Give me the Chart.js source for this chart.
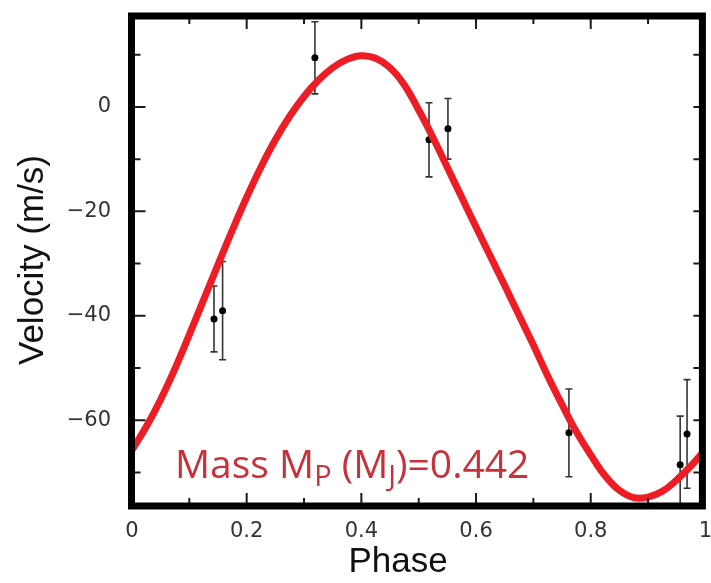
<!DOCTYPE html>
<html>
<head>
<meta charset="utf-8">
<script src="https://cdn.jsdelivr.net/npm/chart.js@4.4.1/dist/chart.umd.min.js"></script>
<style>
  html, body { margin: 0; padding: 0; background: #fff; }
</style>
</head>
<body>
<canvas id="rvChart" width="711" height="583"></canvas>
<script>
// Observed radial velocities (phase folded), with 1-sigma errors
const obsPhase = [0.143, 0.158, 0.319, 0.518, 0.551, 0.762, 0.956, 0.968];
const obsVel   = [-40.6, -39.0, 9.4, -6.3, -4.2, -62.4, -68.5, -62.6];
const obsErr   = [6.3, 9.4, 6.9, 7.1, 5.8, 8.4, 9.3, 10.4];

// Orbit fit (red curve), every 0.025 in phase
const fitPhase = [0, 0.025, 0.05, 0.075, 0.1, 0.125, 0.15, 0.175, 0.2, 0.225,
                  0.25, 0.275, 0.3, 0.325, 0.35, 0.375, 0.4, 0.425, 0.45, 0.475,
                  0.5, 0.525, 0.55, 0.575, 0.6, 0.625, 0.65, 0.675, 0.7, 0.725,
                  0.75, 0.775, 0.8, 0.825, 0.85, 0.875, 0.9, 0.925, 0.95, 0.975, 1.0];
const fitVel   = [-65.7, -61.2, -56.0, -50.1, -43.6, -36.9, -30.2, -23.6, -17.3, -11.5,
                  -6.3, -1.8, 2.0, 5.1, 7.5, 9.1, 9.8, 9.3, 7.5, 4.2,
                  -0.6, -5.9, -11.6, -17.3, -23.0, -28.6, -34.2, -39.9, -45.6, -51.5,
                  -57.0, -62.2, -66.6, -70.6, -73.4, -74.8, -74.7, -73.6, -71.4, -68.7, -65.6];

// Labelled ticks
const xMajor = [0, 0.2, 0.4, 0.6, 0.8, 1];
const yMajor = [-60, -40, -20, 0];

const massLabel = [['Mass M', 0], ['P', 1], [' (M', 0], ['J', 1], [')=0.442', 0]];

const isMajor = (list, v) => list.some(m => Math.abs(m - v) < 1e-6);

// thick black box with inward ticks on all four sides, plus titles and label
const framePlugin = {
  id: 'frame',
  afterDraw(chart) {
    const { ctx, chartArea: a, scales: { x, y } } = chart;
    const L = a.left - 0.5, R = a.right - 3, T = a.top, B = a.bottom;
    ctx.save();
    ctx.strokeStyle = '#1a1a1a';
    ctx.lineWidth = 2;
    ctx.beginPath();
    x.ticks.forEach(t => {
      if (t.value <= 0 || t.value >= 1) return;
      const px = x.getPixelForValue(t.value);
      const len = isMajor(xMajor, t.value) ? 10 : 5;
      ctx.moveTo(px, B - 3); ctx.lineTo(px, B - 3 - len);
      ctx.moveTo(px, T + 3); ctx.lineTo(px, T + 3 + len);
    });
    y.ticks.forEach(t => {
      const py = y.getPixelForValue(t.value);
      const len = isMajor(yMajor, t.value) ? 11 : 6;
      ctx.moveTo(L + 3, py); ctx.lineTo(L + 3 + len, py);
      ctx.moveTo(R - 3, py); ctx.lineTo(R - 9, py);
    });
    ctx.stroke();

    ctx.lineWidth = 7;
    ctx.strokeStyle = '#000';
    ctx.strokeRect(L, T, R - L, B - T);

    // axis titles
    ctx.fillStyle = '#111';
    ctx.font = '35px "Liberation Sans", Arial, sans-serif';
    ctx.textAlign = 'center';
    ctx.textBaseline = 'alphabetic';
    ctx.fillText('Phase', 398, 572);
    ctx.save();
    ctx.translate(43, 260);
    ctx.rotate(-Math.PI / 2);
    ctx.fillText('Velocity (m/s)', 0, 0);
    ctx.restore();

    // planet mass note
    ctx.textAlign = 'left';
    ctx.fillStyle = '#c8303a';
    let tx = 175;
    massLabel.forEach(([txt, sub]) => {
      ctx.font = (sub ? '29px' : '39px') + ' "Open Sans", sans-serif';
      ctx.fillText(txt, tx, 478 + (sub ? 8 : 0));
      tx += ctx.measureText(txt).width;
    });
    ctx.restore();
  }
};

const tickFont = { family: '"DejaVu Sans", sans-serif', size: 21 };

const errorBars = obsPhase.map((p, i) => ({
  type: 'line',
  data: [{ x: p, y: obsVel[i] - obsErr[i] }, { x: p, y: obsVel[i] + obsErr[i] }],
  borderColor: '#333',
  borderWidth: 1.6,
  pointStyle: 'line',
  pointRadius: 3.5,
  pointBorderColor: '#333',
  pointBorderWidth: 1.6,
  order: 2
}));

const ctx = document.getElementById('rvChart').getContext('2d');
new Chart(ctx, {
  type: 'scatter',
  data: {
    datasets: [
      {
        type: 'line',
        data: fitPhase.map((p, i) => ({ x: p, y: fitVel[i] })),
        borderColor: '#ee1d25',
        borderWidth: 7,
        pointRadius: 0,
        tension: 0.4,
        order: 0
      },
      {
        data: obsPhase.map((p, i) => ({ x: p, y: obsVel[i] })),
        backgroundColor: '#000',
        borderWidth: 0,
        pointRadius: 3.5,
        order: 1
      },
      ...errorBars
    ]
  },
  options: {
    responsive: false,
    devicePixelRatio: 1,
    animation: false,
    layout: { padding: { top: 16, right: 1, left: 0, bottom: 0 } },
    plugins: { legend: { display: false }, tooltip: { enabled: false } },
    scales: {
      x: {
        type: 'linear',
        min: 0,
        max: 1,
        grid: { display: false },
        border: { display: false },
        ticks: {
          stepSize: 0.1,
          autoSkip: false,
          maxRotation: 0,
          padding: 5,
          color: '#333',
          font: tickFont,
          callback: v => isMajor(xMajor, v) ? String(Math.round(v * 10) / 10) : ''
        },
        afterFit(s) { s.height = 77; s.paddingLeft = 0; s.paddingRight = 0; }
      },
      y: {
        min: -76.4,
        max: 17.4,
        grid: { display: false },
        border: { display: false },
        ticks: {
          stepSize: 10,
          includeBounds: false,
          autoSkip: false,
          padding: 13,
          color: '#333',
          font: tickFont,
          callback: v => isMajor(yMajor, v) ? (v < 0 ? '\u2212' + Math.abs(v) : String(v)) : ''
        },
        afterFit(s) { s.width = 132; s.paddingTop = 0; s.paddingBottom = 0; }
      }
    }
  },
  plugins: [framePlugin]
});
</script>
</body>
</html>
